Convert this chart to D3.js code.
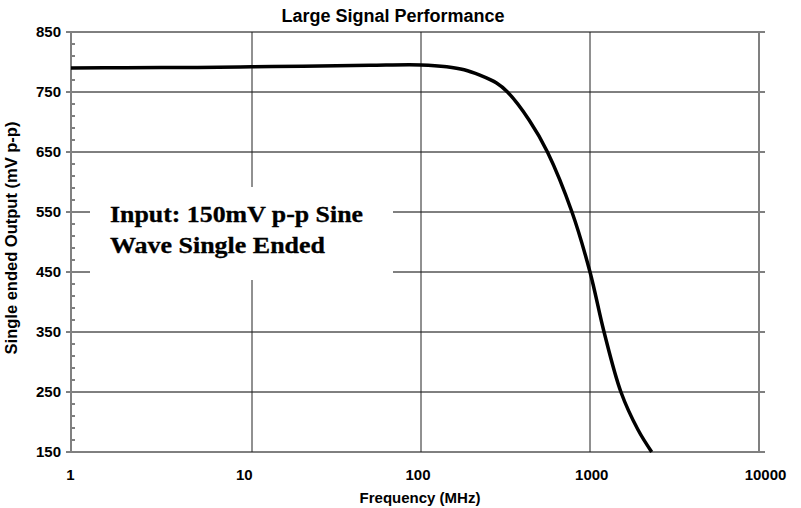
<!DOCTYPE html>
<html>
<head>
<meta charset="utf-8">
<script src="https://cdn.jsdelivr.net/npm/d3@7"></script>
<style>
  body { margin: 0; background: #fff; }
  svg { display: block; }
  text { font-family: "Liberation Sans", Arial, sans-serif; font-weight: bold; }
</style>
</head>
<body>
<div id="chart"></div>
<script>
// frequency (MHz) and output (mV p-p)
var freq = [1, 2, 5, 10, 20, 50, 100, 142, 180, 223, 280, 325, 437, 560, 782, 1000, 1211, 1524, 1923, 2318];
var output = [790, 790.5, 791, 792, 793, 794.5, 795, 792, 787, 778, 765, 750, 703, 650, 550, 450, 350, 250, 187, 150];
var xTicks = [1, 10, 100, 1000, 10000];
var yTicks = [150, 250, 350, 450, 550, 650, 750, 850];
var yMinor = d3.range(150, 851, 20);
var noteLines = ["Input: 150mV p-p Sine", "Wave Single Ended"];

function drawChart() {
  var width = 801, height = 508;
  var plotLeft = 71, plotRight = 759, plotTop = 32, plotBottom = 452;

  var svg = d3.select("#chart").append("svg")
    .attr("width", width)
    .attr("height", height);

  // the source chart's first decade is a bit wider than the rest
  var x = d3.scaleLog().domain([1, 10, 10000]).range([plotLeft, 252, plotRight]);
  // ...while its labels sit evenly spaced
  var xLabel = d3.scaleLog().domain([1, 10000]).range([70, 765]);
  var y = d3.scaleLinear().domain([150, 850]).range([plotBottom, plotTop]);

  // horizontal gridlines
  svg.append("g").selectAll("line").data(yTicks).enter().append("line")
    .attr("x1", plotLeft - 5).attr("x2", plotRight + 6)
    .attr("y1", d => y(d)).attr("y2", d => y(d))
    .attr("stroke", "#000").attr("stroke-width", 1);

  // vertical gridlines
  svg.append("g").selectAll("line").data(xTicks.slice(1, 4)).enter().append("line")
    .attr("x1", d => x(d)).attr("x2", d => x(d))
    .attr("y1", plotTop).attr("y2", plotBottom)
    .attr("stroke", "#222").attr("stroke-width", 1);

  // minor ticks on the value axis
  svg.append("g").selectAll("line").data(yMinor.filter(d => (d - 150) % 100 != 0)).enter().append("line")
    .attr("x1", plotLeft).attr("x2", plotLeft + 4)
    .attr("y1", d => y(d)).attr("y2", d => y(d))
    .attr("stroke", "#000").attr("stroke-width", 1);

  // axis frame
  svg.append("line").attr("x1", plotLeft).attr("x2", plotLeft).attr("y1", plotTop).attr("y2", plotBottom)
    .attr("stroke", "#808080").attr("stroke-width", 2);
  svg.append("line").attr("x1", plotRight).attr("x2", plotRight).attr("y1", plotTop).attr("y2", plotBottom)
    .attr("stroke", "#808080").attr("stroke-width", 2);

  // note box covers the grid behind it
  var note = svg.append("g");
  note.append("rect")
    .attr("x", 90).attr("y", 187).attr("width", 303).attr("height", 93)
    .attr("fill", "#fff");
  note.selectAll("text").data(noteLines).enter().append("text")
    .attr("x", 110)
    .attr("y", (d, i) => 222 + i * 31)
    .attr("textLength", (d, i) => i == 0 ? 253 : 215)
    .attr("lengthAdjust", "spacingAndGlyphs")
    .style("font-family", "'Liberation Serif', 'Times New Roman', serif")
    .style("font-size", "22.5px")
    .attr("fill", "#000")
    .attr("stroke", "#000")
    .attr("stroke-width", 0.3)
    .text(d => d);

  // the curve
  var line = d3.line()
    .x((d, i) => x(freq[i]))
    .y(d => y(d))
    .curve(d3.curveCatmullRom.alpha(0.5));

  svg.append("path")
    .datum(output)
    .attr("d", line)
    .attr("fill", "none")
    .attr("stroke", "#000")
    .attr("stroke-width", 3.5)
    .attr("stroke-linejoin", "round");

  // tick labels
  var yAxis = svg.append("g")
    .attr("transform", `translate(${plotLeft - 10}, 0)`)
    .call(d3.axisLeft(y).tickValues(yTicks).tickSize(0).tickPadding(0));
  yAxis.select(".domain").remove();
  yAxis.selectAll("text").style("font-size", "15px").attr("fill", "#000");

  var xAxis = svg.append("g")
    .attr("transform", `translate(0, ${plotBottom})`)
    .call(d3.axisBottom(xLabel).tickValues(xTicks).tickFormat(d3.format("d")).tickSize(0).tickPadding(17));
  xAxis.select(".domain").remove();
  xAxis.selectAll("text").style("font-size", "15px").attr("fill", "#000");

  // titles
  svg.append("text")
    .attr("x", 393).attr("y", 22)
    .attr("text-anchor", "middle")
    .style("font-size", "18px")
    .text("Large Signal Performance");

  svg.append("text")
    .attr("x", 420).attr("y", 503)
    .attr("text-anchor", "middle")
    .style("font-size", "15px")
    .text("Frequency (MHz)");

  svg.append("text")
    .attr("transform", "translate(17, 238) rotate(-90)")
    .attr("text-anchor", "middle")
    .style("font-size", "16.5px")
    .text("Single ended Output (mV p-p)");
}

drawChart();
</script>
</body>
</html>
